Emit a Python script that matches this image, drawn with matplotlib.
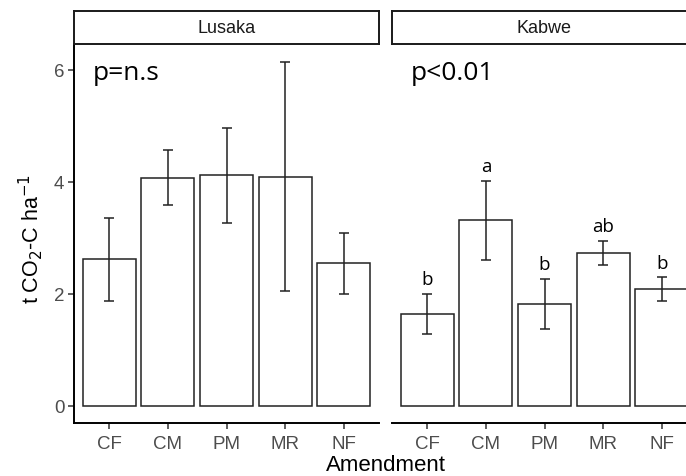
import matplotlib
matplotlib.use("Agg")
import matplotlib.pyplot as plt
import numpy as np

amendments = ["CF", "CM", "PM", "MR", "NF"]
sites = ["Lusaka", "Kabwe"]

lusaka_mean = [2.61, 4.07, 4.11, 4.09, 2.54]
lusaka_se = [0.74, 0.49, 0.85, 2.05, 0.54]
kabwe_mean = [1.64, 3.31, 1.82, 2.73, 2.08]
kabwe_se = [0.36, 0.71, 0.45, 0.21, 0.21]

kabwe_letters = ["b", "a", "b", "ab", "b"]
p_labels = ["p=n.s", "p<0.01"]

W, H = 686, 477
fig = plt.figure(figsize=(W / 100, H / 100), dpi=100)

tick_font = "Liberation Sans"
note_font = "Open Sans"

panels = [
    (lusaka_mean, lusaka_se, None),
    (kabwe_mean, kabwe_se, kabwe_letters),
]
lefts = [74, 392]
pw = 305

x = np.arange(1, len(amendments) + 1)

for i, (means, ses, letters) in enumerate(panels):
    ax = fig.add_axes([lefts[i] / W, (H - 424) / H, pw / W, 378 / H])
    ax.bar(x, means, width=0.9, facecolor="white", edgecolor="#222222",
           linewidth=1.1, zorder=2)
    ax.errorbar(x, means, yerr=ses, fmt="none", ecolor="#222222",
                elinewidth=1.1, capsize=3.3, capthick=1.1, zorder=3)
    ax.set_xlim(0.4, 5.6)
    ax.set_ylim(-0.31, 6.44)
    ax.set_xticks(x)
    ax.set_xticklabels(amendments, fontsize=13.5, color="#4D4D4D",
                       family=tick_font)
    ax.set_yticks([0, 2, 4, 6])
    ax.tick_params(axis="both", length=4, width=1.1, color="#333333",
                   pad=3)
    ax.tick_params(axis="x", pad=5)
    for s in ["top", "right"]:
        ax.spines[s].set_visible(False)
    ax.spines["bottom"].set_linewidth(1.4)
    ax.spines["left"].set_linewidth(1.4)
    if i == 0:
        ax.set_yticklabels(["0", "2", "4", "6"], fontsize=13.5,
                           color="#4D4D4D", family=tick_font)
    else:
        ax.spines["left"].set_visible(False)
        ax.tick_params(axis="y", left=False, labelleft=False)
    ax.text(0.72, 5.95, p_labels[i], fontsize=19, family=note_font,
            ha="left", va="center")
    if letters:
        for xi, m, s, lab in zip(x, means, ses, letters):
            ax.text(xi, m + s + 0.1, lab, fontsize=13.5, family=note_font,
                    ha="center", va="bottom")

    sax = fig.add_axes([lefts[i] / W, (H - 45) / H, pw / W, 33 / H])
    sax.set_xticks([])
    sax.set_yticks([])
    for s in sax.spines.values():
        s.set_linewidth(1.4)
        s.set_color("#1a1a1a")
    sax.text(0.5, 0.5, sites[i], transform=sax.transAxes, ha="center",
             va="center", fontsize=13, color="#1a1a1a", family=tick_font)

fig.text((74 + 697) / 2 / W, 1 - 466 / H, "Amendment", ha="center",
         va="center", fontsize=16, family=tick_font)
fig.text(31 / W, 1 - 239 / H, "t CO$_2$-C ha$^{-1}$", ha="center",
         va="center", rotation=90, fontsize=15.5, family=tick_font)

fig.savefig("out.png", dpi=100)
